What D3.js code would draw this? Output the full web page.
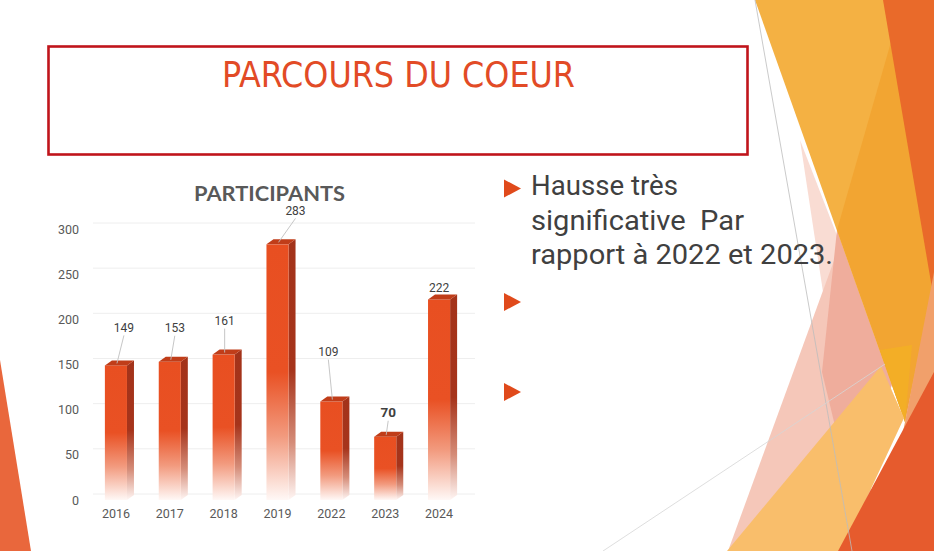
<!DOCTYPE html>
<html>
<head>
<meta charset="utf-8">
<script src="https://cdn.jsdelivr.net/npm/d3@7"></script>
<style>
  html, body { margin: 0; padding: 0; background: #ffffff; }
  svg { display: block; }
  text { white-space: pre; }
</style>
</head>
<body>
<svg id="slide" width="934" height="551"></svg>
<script>
// ---------------- data ----------------
const categories = ["2016", "2017", "2018", "2019", "2022", "2023", "2024"];
const participants = [149, 153, 161, 283, 109, 70, 222];
const yTicks = [0, 50, 100, 150, 200, 250, 300];
const chartTitle = "PARTICIPANTS";
const slideTitle = "PARCOURS DU COEUR";
const bulletLines = ["Hausse très", "significative  Par", "rapport à 2022 et 2023."];

// label placement (pixel offsets of data labels from bar top centre) - layout only
const labelOffsets = [[8, -38], [5, -34], [1, -34], [18, -34], [-3, -50], [3, -24], [0, -12]];
const labelBold = [false, false, false, false, false, true, false];

// ---------------- setup ----------------
const svg = d3.select("#slide");
const W = 934, H = 551;
svg.append("rect").attr("width", W).attr("height", H).attr("fill", "#ffffff");

const defs = svg.append("defs");
function vgrad(id, stops) {
  const g = defs.append("linearGradient").attr("id", id)
    .attr("x1", 0).attr("y1", 0).attr("x2", 0).attr("y2", 1);
  stops.forEach(s => g.append("stop").attr("offset", s[0]).attr("stop-color", s[1]));
}
vgrad("frontGrad", [[0, "#E84F21"], [0.5, "#E95124"], [0.75, "#F29A7E"], [1, "#FFF8F6"]]);
vgrad("sideGrad", [[0, "#A3331A"], [0.5, "#A6341B"], [0.78, "#D58C78"], [1, "#FFF6F4"]]);

// ---------------- decorative background ----------------
const deco = svg.append("g").attr("class", "deco");
const polys = [
  // left bottom sliver
  { p: [[0, 360], [31, 551], [0, 551]], c: "#E9673C" },
  // light pink sliver
  { p: [[800, 140], [862, 300], [823, 292]], c: "#F9DCD3" },
  // pink facet
  { p: [[836, 255], [880, 551], [728, 551]], c: "#F5C7B9" },
  // salmon facet
  { p: [[837, 230], [892, 385], [848, 480], [822, 372]], c: "#EFAD9C" },
  // large light orange facet
  { p: [[755, 0], [934, 0], [934, 280], [905, 422]], c: "#F4B143" },
  // medium orange band
  { p: [[893, 35], [934, 35], [934, 280], [905, 422], [837, 230]], c: "#F2A532" },
  // golden tip
  { p: [[880, 350], [912, 345], [905, 422]], c: "#F3AE26" },
  // dark orange right strip
  { p: [[883, 0], [934, 0], [934, 300]], c: "#E96A2A" },
  // salmon-orange right
  { p: [[934, 272], [905, 422], [878, 551], [934, 551]], c: "#F1A06B" },
  // yellow band bottom
  { p: [[727, 551], [881, 366], [904, 418], [842, 551]], c: "#F9BE6B" },
  // dark red-orange bottom right
  { p: [[934, 372], [934, 551], [838, 551]], c: "#E65B2D" }
];
deco.selectAll("polygon").data(polys).join("polygon")
  .attr("points", d => d.p.map(q => q.join(",")).join(" "))
  .attr("fill", d => d.c);
// thin lines
deco.append("line").attr("x1", 755).attr("y1", 0).attr("x2", 852).attr("y2", 551)
  .attr("stroke", "#BDBDBD").attr("stroke-width", 0.8);
deco.append("line").attr("x1", 603).attr("y1", 551).attr("x2", 885).attr("y2", 364)
  .attr("stroke", "#D6D6D6").attr("stroke-width", 0.8);

// ---------------- slide title ----------------
svg.append("rect").attr("x", 48.5).attr("y", 46.5).attr("width", 699).attr("height", 108)
  .attr("fill", "#ffffff").attr("stroke", "#C0141B").attr("stroke-width", 2.6);
svg.append("text").text(slideTitle)
  .attr("x", 222).attr("y", 87)
  .attr("textLength", 353).attr("lengthAdjust", "spacingAndGlyphs")
  .attr("font-family", "'DejaVu Sans Condensed', 'Liberation Sans Narrow', Roboto, sans-serif")
  .attr("font-size", 35).attr("fill", "#E24B26");

// ---------------- bullets ----------------
const bulletY = [188.5, 302, 392];
svg.append("g").selectAll("path").data(bulletY).join("path")
  .attr("d", y => `M504,${y - 9} L521,${y} L504,${y + 9} Z`)
  .attr("fill", "#E04A1B");
const bulletWidths = [147, 213, 302];
svg.append("g").selectAll("text").data(bulletLines).join("text")
  .attr("x", 531).attr("y", (d, i) => 195 + i * 34.5)
  .attr("xml:space", "preserve")
  .attr("textLength", (d, i) => bulletWidths[i]).attr("lengthAdjust", "spacingAndGlyphs")
  .attr("font-family", "Roboto, 'Open Sans', sans-serif")
  .attr("font-size", 28).attr("fill", "#404040")
  .text(d => d);

// ---------------- chart ----------------
const chart = svg.append("g").attr("class", "chart");
const x = d3.scaleBand().domain(categories).range([89, 466]).paddingInner(0.59).paddingOuter(0.295);
const y = d3.scaleLinear().domain([0, 300]).range([500, 229]);
const DX = 7, DY = -5, GRID_SHIFT = -6;

// back-wall gridlines
chart.append("g").selectAll("line").data(yTicks).join("line")
  .attr("x1", 93).attr("x2", 475)
  .attr("y1", d => y(d) + GRID_SHIFT).attr("y2", d => y(d) + GRID_SHIFT)
  .attr("stroke", "#EEEEEE").attr("stroke-width", 1);

// y axis labels via d3 axis
const yAxis = chart.append("g").attr("transform", "translate(85,0)")
  .call(d3.axisLeft(y).tickValues(yTicks).tickSize(0).tickPadding(6));
yAxis.select(".domain").remove();
yAxis.selectAll("text").attr("font-family", "Roboto, 'Open Sans', sans-serif")
  .attr("font-size", 12.5).attr("fill", "#595959");

// x axis labels via d3 axis
const xAxis = chart.append("g").attr("transform", "translate(0,505)")
  .call(d3.axisBottom(x).tickSize(0).tickPadding(4));
xAxis.select(".domain").remove();
xAxis.selectAll("text").attr("font-family", "Roboto, 'Open Sans', sans-serif")
  .attr("font-size", 12.5).attr("fill", "#595959");

// chart title
chart.append("text").text(chartTitle)
  .attr("x", 194).attr("y", 201)
  .attr("textLength", 151).attr("lengthAdjust", "spacingAndGlyphs")
  .attr("font-family", "Lato, Roboto, sans-serif").attr("font-weight", "bold")
  .attr("font-size", 20).attr("fill", "#595959");

// bars (3D)
const rows = categories.map((c, i) => ({ c, v: participants[i], i }));
const bw = x.bandwidth();
const barG = chart.append("g").selectAll("g").data(rows).join("g");
barG.append("polygon") // side
  .attr("points", d => {
    const x0 = x(d.c) + bw, yt = y(d.v), yb = y(0);
    return [[x0, yt], [x0 + DX, yt + DY], [x0 + DX, yb + DY], [x0, yb]].map(q => q.join(",")).join(" ");
  })
  .attr("fill", "url(#sideGrad)");
barG.append("rect") // front
  .attr("x", d => x(d.c)).attr("y", d => y(d.v))
  .attr("width", bw).attr("height", d => y(0) - y(d.v))
  .attr("fill", "url(#frontGrad)");
barG.append("polygon") // top
  .attr("points", d => {
    const x0 = x(d.c), yt = y(d.v);
    return [[x0, yt], [x0 + DX, yt + DY], [x0 + bw + DX, yt + DY], [x0 + bw, yt]].map(q => q.join(",")).join(" ");
  })
  .attr("fill", "#C03D19");

// data labels with leader lines
const lab = chart.append("g");
rows.forEach(d => {
  const cx = x(d.c) + bw / 2, top = y(d.v);
  const [ox, oy] = labelOffsets[d.i];
  const lx = cx + ox, ly = top + oy;
  if (Math.abs(oy) > 15) {
    lab.append("line")
      .attr("x1", lx).attr("y1", ly + 8)
      .attr("x2", cx + 1).attr("y2", top - 2)
      .attr("stroke", "#BFBFBF").attr("stroke-width", 0.9);
  }
  lab.append("text").text(d.v)
    .attr("x", lx).attr("y", ly).attr("dy", "0.35em")
    .attr("text-anchor", "middle")
    .attr("font-family", "Roboto, 'Open Sans', sans-serif")
    .attr("font-weight", labelBold[d.i] ? "bold" : "normal")
    .attr("font-size", labelBold[d.i] ? 13.5 : 12).attr("fill", "#404040");
});
</script>
</body>
</html>
